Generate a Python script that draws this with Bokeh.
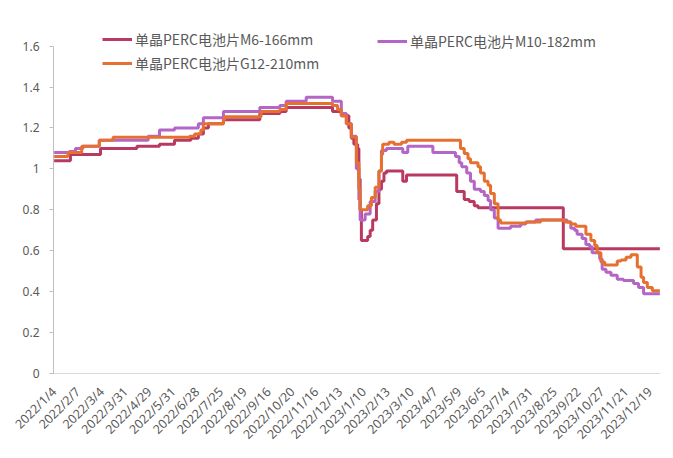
from bokeh.plotting import figure
from bokeh.models import Range1d, FixedTicker, Legend, LegendItem, CustomJSTickFormatter
from bokeh.embed import file_html
from bokeh.resources import INLINE

# ---- data (trading-day index -> price, change points of daily series) ----
date_labels = ["2022/1/4", "2022/2/7", "2022/3/4", "2022/3/31", "2022/4/29", "2022/5/31",
               "2022/6/28", "2022/7/25", "2022/8/19", "2022/9/16", "2022/10/20", "2022/11/16",
               "2022/12/13", "2023/1/10", "2023/2/13", "2023/3/10", "2023/4/7", "2023/5/9",
               "2023/6/5", "2023/7/4", "2023/7/31", "2023/8/25", "2023/9/22", "2023/10/27",
               "2023/11/21", "2023/12/19"]
label_every = 19
n_days = 484

m6_day = [0, 13, 37, 66, 84, 96, 109, 115, 119, 123, 135, 164, 180, 185, 222, 229, 235, 237,
          239, 242, 243, 244, 245, 250, 252, 254, 257, 259, 261, 263, 265, 278, 281, 321, 327,
          331, 335, 338, 406]
m6_val = [1.04, 1.07, 1.10, 1.11, 1.12, 1.14, 1.15, 1.17, 1.20, 1.22, 1.24, 1.27, 1.28, 1.30,
          1.28, 1.26, 1.20, 1.15, 1.12, 1.10, 0.95, 0.80, 0.65, 0.67, 0.70, 0.75, 0.83, 0.90,
          0.94, 0.98, 0.99, 0.94, 0.97, 0.89, 0.85, 0.84, 0.82, 0.81, 0.61]

m10_day = [0, 12, 17, 23, 36, 75, 84, 96, 115, 119, 135, 164, 180, 185, 201, 222, 229, 233,
           237, 241, 243, 244, 248, 252, 256, 259, 261, 265, 278, 282, 302, 320, 323, 325, 329,
           332, 335, 340, 343, 346, 348, 351, 354, 364, 372, 376, 384, 409, 412, 415, 417, 421,
           424, 427, 429, 435, 437, 440, 444, 449, 454, 462, 466, 470]
m10_val = [1.08, 1.085, 1.10, 1.11, 1.14, 1.16, 1.19, 1.20, 1.22, 1.25, 1.28, 1.30, 1.31, 1.33,
           1.35, 1.33, 1.27, 1.22, 1.16, 1.00, 0.85, 0.75, 0.78, 0.84, 0.89, 0.99, 1.09, 1.10,
           1.08, 1.11, 1.08, 1.06, 1.03, 1.01, 0.98, 0.94, 0.90, 0.89, 0.87, 0.845, 0.80, 0.76,
           0.71, 0.72, 0.73, 0.74, 0.75, 0.74, 0.71, 0.70, 0.68, 0.66, 0.63, 0.62, 0.59, 0.56,
           0.51, 0.495, 0.48, 0.46, 0.455, 0.44, 0.42, 0.39]

g12_day = [0, 11, 22, 36, 47, 108, 112, 117, 119, 135, 136, 165, 180, 185, 222, 226, 229, 233,
           237, 241, 243, 244, 250, 253, 256, 259, 261, 262, 267, 271, 277, 281, 324, 327, 330,
           332, 338, 340, 343, 346, 348, 351, 354, 356, 377, 388, 407, 412, 416, 424, 428, 431,
           433, 436, 439, 449, 452, 456, 460, 465, 468, 470, 473, 477]
g12_val = [1.06, 1.08, 1.11, 1.14, 1.155, 1.16, 1.17, 1.19, 1.22, 1.24, 1.255, 1.28, 1.29, 1.32,
           1.31, 1.29, 1.26, 1.22, 1.155, 1.03, 0.90, 0.80, 0.82, 0.86, 0.91, 0.99, 1.07, 1.12,
           1.13, 1.12, 1.13, 1.14, 1.10, 1.075, 1.05, 1.03, 1.01, 0.98, 0.94, 0.92, 0.88, 0.83,
           0.75, 0.735, 0.74, 0.75, 0.74, 0.73, 0.72, 0.68, 0.65, 0.625, 0.59, 0.545, 0.53, 0.55,
           0.555, 0.568, 0.58, 0.52, 0.47, 0.445, 0.42, 0.405]

series_names = ["单晶PERC电池片M6-166mm", "单晶PERC电池片M10-182mm", "单晶PERC电池片G12-210mm"]
series_colors = ["#B93A61", "#B466C6", "#E6702F"]

y_ticks = [0, 0.2, 0.4, 0.6, 0.8, 1.0, 1.2, 1.4, 1.6]

# ---- figure ----
FONT = "Noto Sans"
CJK = "Noto Sans CJK SC"
GREY = "#595959"

p = figure(width=665, height=452, output_backend="svg", toolbar_location=None,
           x_range=Range1d(-0.5, n_days - 0.5), y_range=Range1d(0, 1.686),
           min_border_left=53, min_border_right=5, min_border_top=28, min_border_bottom=79)
p.outline_line_color = None
p.xgrid.visible = False
p.ygrid.visible = False
p.background_fill_color = "white"
p.border_fill_color = "white"

renderers = []
for days, vals, col in [(m6_day, m6_val, series_colors[0]),
                        (m10_day, m10_val, series_colors[1]),
                        (g12_day, g12_val, series_colors[2])]:
    xs = list(days) + [n_days - 1]
    ys = list(vals) + [vals[-1]]
    r = p.step(xs, ys, mode="after", line_color=col, line_width=3)
    renderers.append(r)

# y axis
ya = p.yaxis[0]
ya.ticker = FixedTicker(ticks=y_ticks)
ya.bounds = (0, 1.6)
ya.formatter = CustomJSTickFormatter(code="return tick.toFixed(1).replace(/\\.0$/, '');")
ya.axis_line_color = "#BFBFBF"
ya.major_tick_line_color = "#BFBFBF"
ya.major_tick_out = 4
ya.major_tick_in = 0
ya.minor_tick_line_color = None
ya.major_label_text_font = FONT
ya.major_label_text_font_size = "12px"
ya.major_label_text_color = GREY
ya.major_label_standoff = 10

# x axis
xa = p.xaxis[0]
tick_pos = [i * label_every for i in range(len(date_labels))]
xa.ticker = FixedTicker(ticks=tick_pos)
xa.major_label_overrides = {t: lab for t, lab in zip(tick_pos, date_labels)}
xa.major_label_orientation = 0.7854
xa.axis_line_color = "#D9D9D9"
xa.major_tick_line_color = None
xa.major_tick_out = 0
xa.major_tick_in = 0
xa.minor_tick_line_color = None
xa.major_label_text_font = FONT
xa.major_label_text_font_size = "12.5px"
xa.major_label_text_color = GREY
xa.major_label_standoff = 16

# legends
def make_legend(items, loc):
    lg = Legend(items=items, location=loc, orientation="vertical",
                padding=0, margin=0, spacing=4, border_line_color=None,
                background_fill_alpha=0, glyph_width=30, glyph_height=18,
                label_height=18, label_standoff=3,
                label_text_font=CJK, label_text_font_size="14px",
                label_text_color=GREY)
    return lg

leg1 = make_legend([LegendItem(label=series_names[0], renderers=[renderers[0]]),
                    LegendItem(label=series_names[2], renderers=[renderers[2]])], (49, 300))
leg2 = make_legend([LegendItem(label=series_names[1], renderers=[renderers[1]])], (324, 322))
p.add_layout(leg1, "center")
p.add_layout(leg2, "center")

open("out.html", "w").write(file_html(p, INLINE))
